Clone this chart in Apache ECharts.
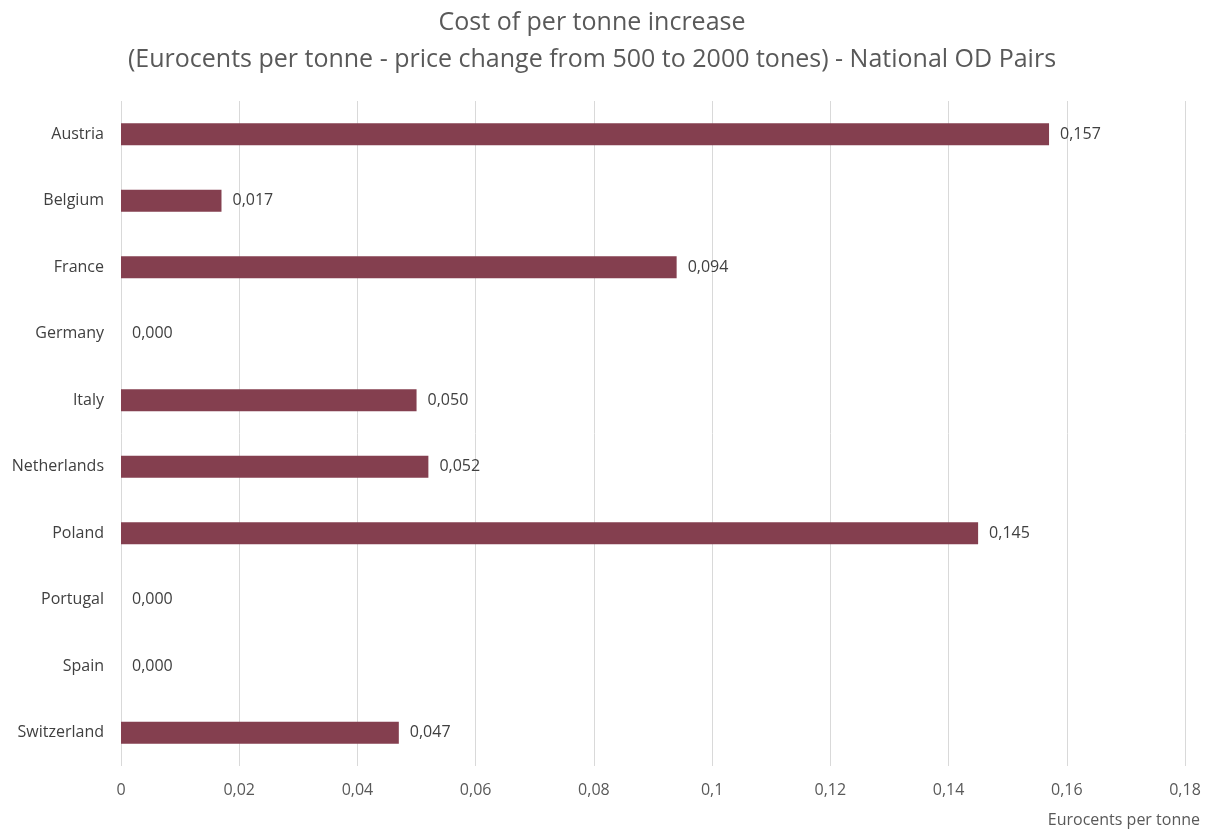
<!DOCTYPE html>
<html><head><meta charset="utf-8">
<script src="https://cdn.jsdelivr.net/npm/echarts@6/dist/echarts.min.js"></script>
<style>html,body{margin:0;padding:0;background:#fff}#c{width:1212px;height:832px}</style>
</head><body><div id="c"></div>
<script>
var categories = ["Austria","Belgium","France","Germany","Italy","Netherlands","Poland","Portugal","Spain","Switzerland"];
var values = [0.157,0.017,0.094,0.000,0.050,0.052,0.145,0.000,0.000,0.047];
var titleLines = ["Cost of per tonne increase","(Eurocents per tonne - price change from 500 to 2000 tones) - National OD Pairs"];
var axisName = "Eurocents per tonne";
var FONT = "Open Sans";
var chart = echarts.init(document.getElementById('c'));
chart.setOption({
  animation:false,
  textStyle:{fontFamily:FONT},
  title:{text:titleLines.join("\n"),left:587,textAlign:'center',top:-1,textStyle:{fontFamily:FONT,fontSize:25,fontWeight:'normal',color:'#595959',lineHeight:37}},
  grid:{left:121,right:27,top:101,bottom:66},
  graphic:[{type:'text',right:12,top:812,style:{text:axisName,fontFamily:FONT,fontSize:16,fill:'#595959'}}],
  xAxis:{type:'value',min:0,max:0.18,interval:0.02,
    axisLine:{show:false},axisTick:{show:false},
    splitLine:{lineStyle:{color:'#d9d9d9',width:1}},
    axisLabel:{fontFamily:FONT,fontSize:16,color:'#595959',margin:16,
      formatter:function(v){return v===0?'0':String(+v.toFixed(2)).replace('.',',');}}},
  yAxis:{type:'category',data:categories,inverse:true,
    axisLine:{show:false},axisTick:{show:false},
    axisLabel:{fontFamily:FONT,fontSize:16,color:'#404040',margin:17}},
  series:[{type:'bar',data:values,barWidth:22,itemStyle:{color:'#843f4f'},
    label:{show:true,position:'right',distance:11,fontFamily:FONT,fontSize:16,color:'#404040',
      formatter:function(p){return p.value.toFixed(3).replace('.',',');}}}]
});
</script></body></html>
